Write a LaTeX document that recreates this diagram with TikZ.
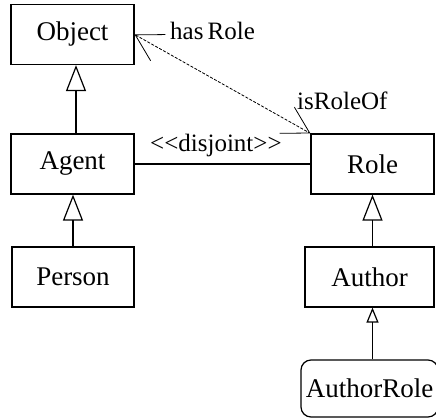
\documentclass[tikz,border=0pt]{standalone}
\usepackage{fontspec}
\setmainfont{Liberation Serif}
\usetikzlibrary{arrows.meta}
\tikzstyle{cls} = [draw, line width=1.2pt, minimum width=123pt, minimum height=60pt, inner sep=0pt, font=\fontsize{27}{30}\selectfont]
\tikzstyle{lbl} = [inner sep=0pt, anchor=base west, font=\fontsize{25}{28}\selectfont]
\tikzstyle{gen} = [line width=1.2pt, -{Triangle[open,length=26pt,width=20pt]}]
\tikzstyle{gensmall} = [line width=1.2pt, -{Triangle[open,length=15pt,width=12pt]}]
\tikzstyle{assoc} = [line width=0.8pt, dash pattern=on 3pt off 1.5pt, {Straight Barb[length=26pt,width=30pt]}-{Straight Barb[length=26pt,width=30pt]}]

\begin{document}
\begin{tikzpicture}[x=1pt,y=-1pt]
			\useasboundingbox (0,0) rectangle (436,419);
			\node[cls] (object) at (72.5,34.5) {Object};
			\node[cls] (agent) at (72.5,164) {Agent};
			\node[cls, minimum width=122pt] (person) at (73,277) {Person};
			\node[cls] (role) at (372.5,164) {Role};
			\node[cls, minimum width=129pt] (author) at (369.5,277) {Author};
			\node[cls, minimum width=137pt, minimum height=57pt, rounded corners=10pt] (authorrole) at (369.5,388.5) {AuthorRole};
			\draw [gen] ([xshift=3.5pt]agent.north) -- ([xshift=3.5pt]object.south);
			\draw [gen] (person.north) -- (person.north |- agent.south);
			\draw [gen] (author.north -| role.south) -- (role.south);
			\draw [gensmall] (authorrole.north -| role.south) -- (role.south |- author.south);
			\draw [line width=1.2pt] (agent.east) -- (role.west);
			\draw [assoc] (object.east) -- (role.north west);
			\node[lbl] (hasrole) at (170,40) {has\,Role};
			\node[lbl] (isroleof) at (297,110) {isRoleOf};
			\node[lbl] (disjoint) at (150,152) {<\kern0pt<disjoint>\kern0pt>};
		\end{tikzpicture}
\end{document}
